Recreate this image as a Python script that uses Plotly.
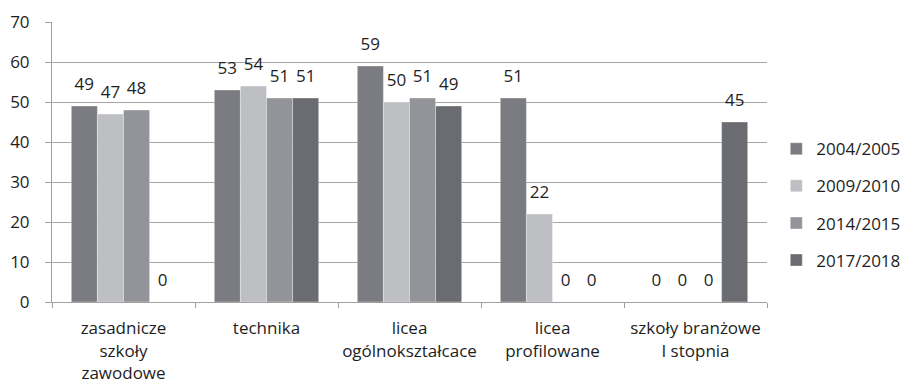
import plotly.graph_objects as go

categories = [
    "zasadnicze<br>szkoły<br>zawodowe",
    "technika",
    "licea<br>ogólnokształcace",
    "licea<br>profilowane",
    "szkoły branżowe<br>I stopnia",
]
series_names = ["2004/2005", "2009/2010", "2014/2015", "2017/2018"]
values_2004 = [49, 53, 59, 51, 0]
values_2009 = [47, 54, 50, 22, 0]
values_2014 = [48, 51, 51, 0, 0]
values_2017 = [0, 51, 49, 0, 45]
series_values = [values_2004, values_2009, values_2014, values_2017]
colors = ["#7b7c81", "#bebfc3", "#939499", "#6b6c71"]
y_ticks = [0, 10, 20, 30, 40, 50, 60, 70]

FONT = "'Open Sans', sans-serif"
TEXT_COLOR = "#1e1e1e"
FS = 17

fig = go.Figure()

for i, (name, vals, col) in enumerate(zip(series_names, series_values, colors)):
    fig.add_trace(go.Bar(
        x=categories, y=vals, name=name, offsetgroup=str(i),
        legendgroup=name,
        marker=dict(color=col, line=dict(color="rgba(255,255,255,0.35)", width=1)),
    ))

# value labels placed above each bar, grouped like the bars
for i, (name, vals) in enumerate(zip(series_names, series_values)):
    fig.add_trace(go.Scatter(
        x=categories, y=vals, mode="markers+text", offsetgroup=str(i),
        text=[str(v) for v in vals], textposition="top center",
        marker=dict(size=18, opacity=0),
        textfont=dict(family=FONT, size=FS, color=TEXT_COLOR),
        showlegend=False, hoverinfo="skip", cliponaxis=False,
    ))

fig.update_layout(
    width=908, height=386,
    margin=dict(l=52, r=141, t=22, b=84, autoexpand=False),
    plot_bgcolor="white", paper_bgcolor="white",
    barmode="group", bargap=0.27, bargroupgap=0,
    scattermode="group", scattergap=0.27,
    font=dict(family=FONT, size=FS, color=TEXT_COLOR),
    legend=dict(
        x=1.013, xanchor="left", y=0.61, yanchor="top",
        font=dict(family=FONT, size=FS, color=TEXT_COLOR),
        tracegroupgap=12, itemwidth=30,
        bgcolor="rgba(0,0,0,0)",
    ),
    showlegend=True,
)

fig.update_xaxes(
    type="category", tickson="boundaries", ticks="outside", ticklen=5,
    tickangle=0, automargin=False,
    tickcolor="#a0a0a0", showline=True, linecolor="#a0a0a0", linewidth=1,
    showgrid=False, ticklabelstandoff=11,
    tickfont=dict(family=FONT, size=FS, color=TEXT_COLOR),
)
fig.update_yaxes(
    range=[0, 70], tickvals=y_ticks, ticks="outside", ticklen=6,
    automargin=False,
    tickcolor="#a0a0a0", showline=True, linecolor="#a0a0a0", linewidth=1,
    showgrid=True, gridcolor="#a6a6a6", gridwidth=1, zeroline=False,
    ticklabelstandoff=12,
    tickfont=dict(family=FONT, size=FS, color=TEXT_COLOR),
)

fig.write_html("out.html")
